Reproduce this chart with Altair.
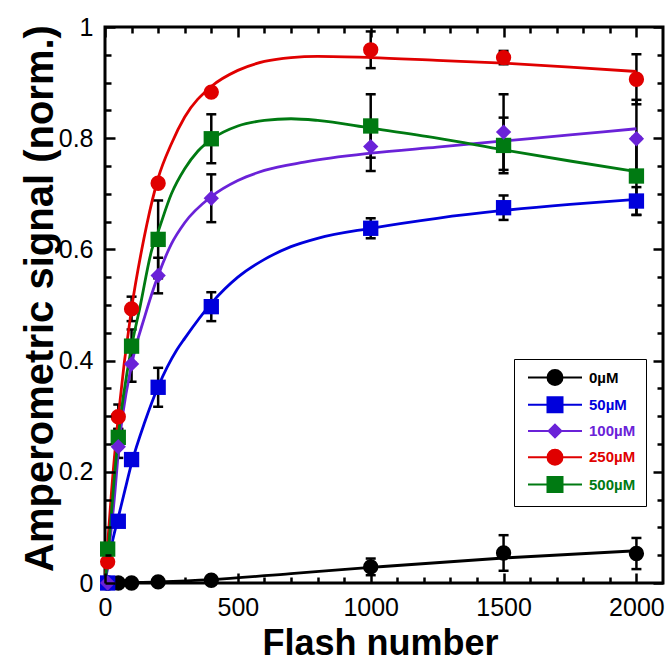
import altair as alt
import pandas as pd

# ---------------- data ----------------
series_names = ["0µM", "50µM", "100µM", "250µM", "500µM"]
series_colors = ["#000000", "#0000DC", "#6A22D8", "#E00000", "#007A12"]
series_markers = ["circle", "square", "diamond", "circle", "square"]

flash = [10, 50, 100, 200, 400, 1000, 1500, 2000]

sig_0 = [0.0, 0.0, 0.0, 0.002, 0.005, 0.029, 0.054, 0.053]
err_0 = [0.0, 0.0, 0.0, 0.0, 0.0, 0.015, 0.032, 0.028]
sig_50 = [0.0, 0.111, 0.222, 0.352, 0.497, 0.638, 0.675, 0.687]
err_50 = [0.0, 0.0, 0.0, 0.035, 0.026, 0.018, 0.022, 0.025]
sig_100 = [0.0, 0.245, 0.394, 0.553, 0.692, 0.785, 0.811, 0.799]
err_100 = [0.0, 0.02, 0.032, 0.032, 0.043, 0.044, 0.068, 0.07]
sig_250 = [0.038, 0.299, 0.493, 0.719, 0.883, 0.959, 0.945, 0.906]
err_250 = [0.0, 0.022, 0.022, 0.0, 0.0, 0.033, 0.012, 0.045]
sig_500 = [0.061, 0.262, 0.426, 0.618, 0.799, 0.822, 0.787, 0.732]
err_500 = [0.0, 0.015, 0.03, 0.07, 0.044, 0.057, 0.05, 0.07]

# fitted curves
fit_x_0 = [0, 200, 400, 700, 1000, 1500, 2000]
fit_y_0 = [0.0, 0.002, 0.006, 0.017, 0.028, 0.045, 0.058]
fit_x_50 = [0, 29, 50, 75, 100, 150, 200, 270, 300, 400, 500, 600, 700, 800, 1000, 1250, 1500, 1750, 2000]
fit_y_50 = [0.0, 0.077, 0.118, 0.167, 0.215, 0.290, 0.353, 0.419, 0.440, 0.503, 0.550, 0.582, 0.605, 0.620, 0.638, 0.656, 0.670, 0.681, 0.690]
fit_x_100 = [0, 38, 50, 100, 150, 200, 250, 300, 400, 500, 600, 750, 1000, 1250, 1500, 1750, 2000]
fit_y_100 = [0.0, 0.167, 0.235, 0.392, 0.480, 0.553, 0.610, 0.648, 0.695, 0.724, 0.742, 0.757, 0.773, 0.784, 0.795, 0.806, 0.817]
fit_x_250 = [0, 10, 25, 50, 100, 138, 157, 200, 250, 300, 400, 500, 600, 700, 800, 1000, 1250, 1500, 1750, 2000]
fit_y_250 = [0.0, 0.07, 0.167, 0.299, 0.494, 0.599, 0.644, 0.728, 0.790, 0.838, 0.893, 0.922, 0.938, 0.945, 0.947, 0.945, 0.940, 0.935, 0.928, 0.920]
fit_x_500 = [0, 16, 31, 50, 100, 132, 176, 200, 250, 300, 350, 400, 500, 600, 700, 800, 1000, 1250, 1500, 1750, 2000]
fit_y_500 = [0.0, 0.077, 0.167, 0.263, 0.425, 0.497, 0.599, 0.632, 0.700, 0.745, 0.777, 0.798, 0.822, 0.832, 0.835, 0.832, 0.818, 0.800, 0.779, 0.759, 0.740]

x_domain = [0, 2100]
y_domain = [0, 1]
x_major = [0, 500, 1000, 1500, 2000]
x_minor = [100, 200, 300, 400, 600, 700, 800, 900, 1100, 1200, 1300, 1400,
           1600, 1700, 1800, 1900]
y_major = [0, 0.2, 0.4, 0.6, 0.8, 1.0]
y_minor = [0.05, 0.1, 0.15, 0.25, 0.3, 0.35, 0.45, 0.5, 0.55, 0.65, 0.7, 0.75,
           0.85, 0.9, 0.95]
x_all = sorted(x_major + x_minor)
y_all = sorted(y_major + y_minor)

# legend symbols: line + marker (custom paths)
legend_paths = [
    "M-3.6,0H3.6M1,0A1,1,0,1,1,-1,0A1,1,0,1,1,1,0Z",
    "M-3.6,0H3.6M-1,-1H1V1H-1Z",
    "M-3.6,0H3.6M0,-0.85L0.85,0L0,0.85L-0.85,0Z",
    "M-3.6,0H3.6M1,0A1,1,0,1,1,-1,0A1,1,0,1,1,1,0Z",
    "M-3.6,0H3.6M-1,-1H1V1H-1Z",
]

sigs = [sig_0, sig_50, sig_100, sig_250, sig_500]
errs = [err_0, err_50, err_100, err_250, err_500]
fits = [(fit_x_0, fit_y_0), (fit_x_50, fit_y_50), (fit_x_100, fit_y_100),
        (fit_x_250, fit_y_250), (fit_x_500, fit_y_500)]

rows = []
for name, mk, s, e in zip(series_names, series_markers, sigs, errs):
    for f, v, d in zip(flash, s, e):
        rows.append({"series": name, "marker": mk, "flash": f, "value": v,
                     "err": d, "lo": v - d, "hi": v + d})
pts = pd.DataFrame(rows)
errdf = pts[pts["err"] > 0]

frows = []
for name, (fx, fy) in zip(series_names, fits):
    for a, b in zip(fx, fy):
        frows.append({"series": name, "x": a, "y": b})
fitdf = pd.DataFrame(frows)

# ---------------- layout ----------------
W, H = 558, 556
FONT = "Liberation Sans"

x_scale = alt.Scale(domain=x_domain, nice=False, zero=False)
y_scale = alt.Scale(domain=y_domain, nice=False, zero=False)
color_scale = alt.Scale(domain=series_names, range=series_colors)

X_MAJOR_TEST = "datum.value % 500 === 0"
Y_MAJOR_TEST = "abs(datum.value * 5 - round(datum.value * 5)) < 0.000001"
x_tick_len = alt.ExprRef(f"{X_MAJOR_TEST} ? -10 : -6")
y_tick_len = alt.ExprRef(f"{Y_MAJOR_TEST} ? -10 : -6")

ax_x = alt.Axis(orient="bottom", values=x_all, format="d",
                labelExpr=f"{X_MAJOR_TEST} ? datum.label : ''",
                ticks=True, tickSize=x_tick_len, tickWidth=2.5,
                tickColor="black", tickOpacity=1, domain=False, grid=False,
                labelFont=FONT, zindex=1,
                labelFontSize=25, labelColor="black", labelPadding=22,
                labelFlush=False, labelOverlap=False, title="Flash number",
                titleFont=FONT, titleFontSize=36, titleFontWeight="bold",
                titleColor="black", titleX=275, titleY=71,
                titleBaseline="alphabetic", titleAlign="center")
ax_y = alt.Axis(orient="left", values=y_all, format="~g",
                labelExpr=f"{Y_MAJOR_TEST} ? datum.label : ''",
                ticks=True, tickSize=y_tick_len, tickWidth=2.5,
                tickColor="black", tickOpacity=1, domain=False, grid=False,
                labelFont=FONT, zindex=1,
                labelFontSize=25, labelColor="black", labelPadding=22,
                labelFlush=False, labelOverlap=False,
                title="Amperometric signal (norm.)",
                titleFont=FONT, titleFontSize=40, titleFontWeight="bold",
                titleColor="black", titleAngle=270, titleX=-53,
                titleY=271, titleBaseline="alphabetic",
                titleAlign="center")
ax_x_top = alt.Axis(orient="top", values=x_all, ticks=True,
                    tickSize=x_tick_len, tickWidth=2.5, tickColor="black",
                    tickOpacity=1, zindex=1,
                    labels=False, domain=False, grid=False, title=None)
ax_y_right = alt.Axis(orient="right", values=y_all, ticks=True,
                      tickSize=y_tick_len, tickWidth=2.5, tickColor="black",
                      tickOpacity=1, zindex=1,
                      labels=False, domain=False, grid=False, title=None)

leg = alt.Legend(title=None, orient="none", legendX=409, legendY=332,
                 padding=10, symbolSize=225, symbolOffset=22.5, labelOffset=25.5,
                 rowPadding=4.25, symbolStrokeWidth=2, symbolOpacity=1,
                 labelFont=FONT, labelFontSize=15, labelFontWeight="bold",
                 labelColor=alt.ExprRef("scale('fill', datum.value)"),
                 strokeColor="black", fillColor="white", cornerRadius=0,
                 labelLimit=200)

legend_layer = alt.Chart(pts).transform_filter("false").mark_point(
    filled=True, size=225, strokeWidth=2, opacity=1).encode(
    x=alt.X("flash:Q", scale=x_scale, axis=ax_x),
    y=alt.Y("value:Q", scale=y_scale, axis=ax_y),
    fill=alt.Fill("series:N", scale=alt.Scale(domain=series_names, range=series_colors), legend=leg),
    stroke=alt.Stroke("series:N", scale=alt.Scale(domain=series_names, range=series_colors), legend=leg),
    shape=alt.Shape("series:N", scale=alt.Scale(domain=series_names, range=legend_paths), legend=leg),
)

rules = alt.Chart(errdf).mark_rule(color="black", strokeWidth=2.5).encode(
    x=alt.X("flash:Q", scale=x_scale, axis=ax_x_top),
    y=alt.Y("lo:Q", scale=y_scale, axis=ax_y_right),
    y2="hi:Q",
)
caps_lo = alt.Chart(errdf).mark_tick(orient="horizontal", color="black",
                                     thickness=2.5, size=10, opacity=1).encode(
    x=alt.X("flash:Q", scale=x_scale, axis=None),
    y=alt.Y("lo:Q", scale=y_scale, axis=None),
)
caps_hi = alt.Chart(errdf).mark_tick(orient="horizontal", color="black",
                                     thickness=2.5, size=10, opacity=1).encode(
    x=alt.X("flash:Q", scale=x_scale, axis=None),
    y=alt.Y("hi:Q", scale=y_scale, axis=None),
)
lines = alt.Chart(fitdf).mark_line(strokeWidth=2.8, interpolate="monotone").encode(
    x=alt.X("x:Q", scale=x_scale, axis=None),
    y=alt.Y("y:Q", scale=y_scale, axis=None),
    color=alt.Color("series:N", scale=color_scale, legend=None),
)


def point_layer(shape):
    return alt.Chart(pts).transform_filter(
        alt.datum.marker == shape
    ).mark_point(filled=True, shape=shape, size=235, opacity=1).encode(
        x=alt.X("flash:Q", scale=x_scale, axis=None),
        y=alt.Y("value:Q", scale=y_scale, axis=None),
        color=alt.Color("series:N", scale=color_scale, legend=None),
    )


chart = alt.layer(
    legend_layer, rules, caps_lo, caps_hi, lines,
    point_layer("circle"), point_layer("square"), point_layer("diamond"),
).resolve_axis(
    x="independent", y="independent"
).properties(
    width=W, height=H,
    autosize=alt.AutoSizeParams(type="none"),
    padding={"left": 105, "top": 27, "right": 5, "bottom": 81},
    background="white",
).configure_view(
    stroke="black", strokeWidth=3
)

chart.save("out.html", embed_options={"renderer": "svg", "actions": False})
